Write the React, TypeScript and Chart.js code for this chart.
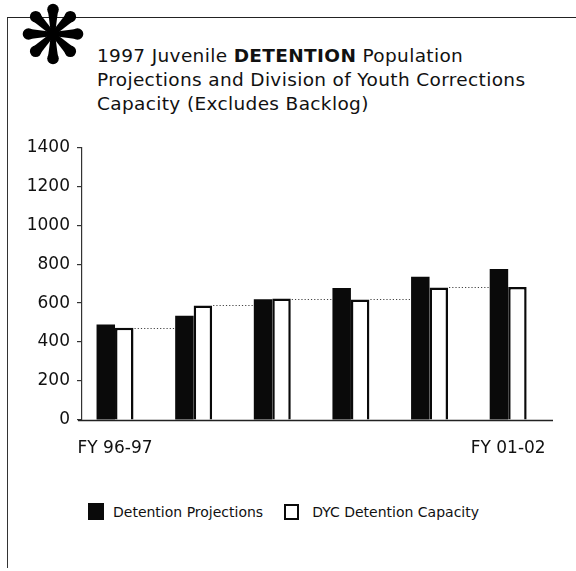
import React, { useEffect, useRef } from "react";
import { Chart, registerables } from "chart.js";

Chart.register(...registerables);

const years = ["FY 96-97", "FY 97-98", "FY 98-99", "FY 99-00", "FY 00-01", "FY 01-02"];
const detentionProjections = [490, 535, 620, 678, 735, 775];
const dycCapacity = [473, 588, 623, 619, 680, 682];
const yTicks = [0, 200, 400, 600, 800, 1000, 1200, 1400];
const labelledYears = [0, 5];

const FONT = "'DejaVu Sans', sans-serif";

const capacityStepPlugin = {
  id: "capacitySteps",
  afterDatasetsDraw(chart: any) {
    const ctx = chart.ctx;
    const y = chart.scales.y;
    const m0 = chart.getDatasetMeta(0);
    const m1 = chart.getDatasetMeta(1);
    ctx.save();
    ctx.strokeStyle = "#444";
    ctx.lineWidth = 1;
    ctx.setLineDash([1.2, 2]);
    for (let i = 0; i < dycCapacity.length - 1; i++) {
      const w = m1.data[i];
      const b = m0.data[i + 1];
      const py = Math.round(y.getPixelForValue(dycCapacity[i])) + 0.5;
      const x1 = w.x + w.width / 2 + 1;
      const x2 = b.x - b.width / 2 - 1;
      ctx.beginPath();
      ctx.moveTo(x1, py);
      ctx.lineTo(x2, py);
      ctx.stroke();
    }
    ctx.restore();
  },
  afterDraw(chart: any) {
    const ctx = chart.ctx;
    const x = chart.scales.x;
    const y = chart.scales.y;
    ctx.save();
    const py0 = Math.round(y.getPixelForValue(0)) + 0.5;
    ctx.strokeStyle = "#222";
    ctx.lineWidth = 1.3;
    ctx.beginPath();
    ctx.moveTo(x.left - 4, py0);
    ctx.lineTo(x.right, py0);
    ctx.stroke();
    ctx.fillStyle = "#111";
    ctx.font = `17px ${FONT}`;
    ctx.textAlign = "center";
    ctx.textBaseline = "middle";
    for (const i of labelledYears) {
      ctx.fillText(years[i], x.getPixelForValue(i), py0 + 28);
    }
    ctx.restore();
  },
};

function ChartCanvas() {
  const ref = useRef<HTMLCanvasElement | null>(null);
  useEffect(() => {
    if (!ref.current) return;
    const chart = new Chart(ref.current, {
      type: "bar",
      data: {
        datasets: [
          {
            label: "Detention Projections",
            data: detentionProjections.map((v, i) => ({ x: i, y: v })),
            backgroundColor: "#0a0a0a",
            borderColor: "#0a0a0a",
            borderWidth: 0,
            categoryPercentage: 0.47,
            barPercentage: 1,
          },
          {
            label: "DYC Detention Capacity",
            data: dycCapacity.map((v, i) => ({ x: i, y: v })),
            backgroundColor: "#ffffff",
            borderColor: "#0a0a0a",
            borderWidth: 2.5,
            categoryPercentage: 0.47,
            barPercentage: 1,
          },
        ],
      },
      options: {
        animation: false,
        responsive: false,
        maintainAspectRatio: false,
        layout: { padding: { top: 13, right: 23, bottom: 0, left: 0 } },
        plugins: {
          legend: { display: false },
          tooltip: { enabled: false },
          title: { display: false },
        },
        scales: {
          x: {
            type: "linear",
            offset: false,
            min: -0.42,
            max: 5.57,
            afterBuildTicks(scale: any) {
              scale.ticks = years.map((_, i) => ({ value: i }));
            },
            grid: { display: false, offset: false },
            border: { display: false },
            ticks: { display: false },
            afterFit(scale: any) {
              scale.height = 50;
            },
          },
          y: {
            min: 0,
            max: 1400,
            afterBuildTicks(scale: any) {
              scale.ticks = yTicks.map((v) => ({ value: v }));
            },
            grid: {
              drawOnChartArea: false,
              drawTicks: true,
              tickLength: 5,
              tickColor: "#333",
              lineWidth: 1.2,
            },
            border: { display: true, color: "#333", width: 1.2 },
            ticks: {
              color: "#111",
              padding: 7,
              font: { family: FONT, size: 17 },
              callback: (v: any) => String(v),
            },
            afterFit(scale: any) {
              scale.width = 82;
            },
          },
        },
      } as any,
      plugins: [capacityStepPlugin],
    });
    return () => chart.destroy();
  }, []);
  return (
    <canvas
      ref={ref}
      width={576}
      height={340}
      style={{ position: "absolute", left: 0, top: 130, width: 576, height: 340 }}
    />
  );
}

function Asterisk() {
  const spokes = [0, 45, 90, 135, 180, 225, 270, 315];
  return (
    <svg
      width={70}
      height={70}
      viewBox="-35 -35 70 70"
      style={{ position: "absolute", left: 18, top: -1 }}
    >
      {spokes.map((a) => (
        <g key={a} transform={`rotate(${a})`}>
          <polygon points="0,-2 23,-5 23,5 0,2" fill="#000" />
          <circle cx={24.5} cy={0} r={5.8} fill="#000" />
        </g>
      ))}
      <circle cx={0} cy={0} r={4.5} fill="#000" />
    </svg>
  );
}

export default function App() {
  useEffect(() => {
    document.body.style.margin = "0";
  }, []);
  return (
    <div
      style={{
        position: "relative",
        width: 576,
        height: 571,
        overflow: "hidden",
        background: "#fff",
        fontFamily: FONT,
        color: "#111",
      }}
    >
      <div
        style={{
          position: "absolute",
          left: 7,
          top: 17,
          width: 569,
          height: 550,
          borderTop: "1.5px solid #222",
          borderLeft: "1.5px solid #333",
        }}
      />
      <Asterisk />
      <div
        style={{
          position: "absolute",
          left: 97,
          top: 44,
          fontSize: 18.5,
          lineHeight: "24px",
          letterSpacing: 0.35,
          whiteSpace: "nowrap",
        }}
      >
        <div>
          1997 Juvenile <b>DETENTION</b> Population
        </div>
        <div>Projections and Division of Youth Corrections</div>
        <div>Capacity (Excludes Backlog)</div>
      </div>
      <ChartCanvas />
      <div
        style={{
          position: "absolute",
          left: 88,
          top: 503,
          display: "flex",
          alignItems: "center",
          fontSize: 14,
          whiteSpace: "nowrap",
        }}
      >
        <span style={{ display: "inline-block", width: 16, height: 17, background: "#0a0a0a" }} />
        <span style={{ marginLeft: 9 }}>Detention Projections</span>
        <span
          style={{
            display: "inline-block",
            width: 11,
            height: 12,
            border: "2px solid #0a0a0a",
            marginLeft: 21,
          }}
        />
        <span style={{ marginLeft: 13 }}>DYC Detention Capacity</span>
      </div>
    </div>
  );
}
